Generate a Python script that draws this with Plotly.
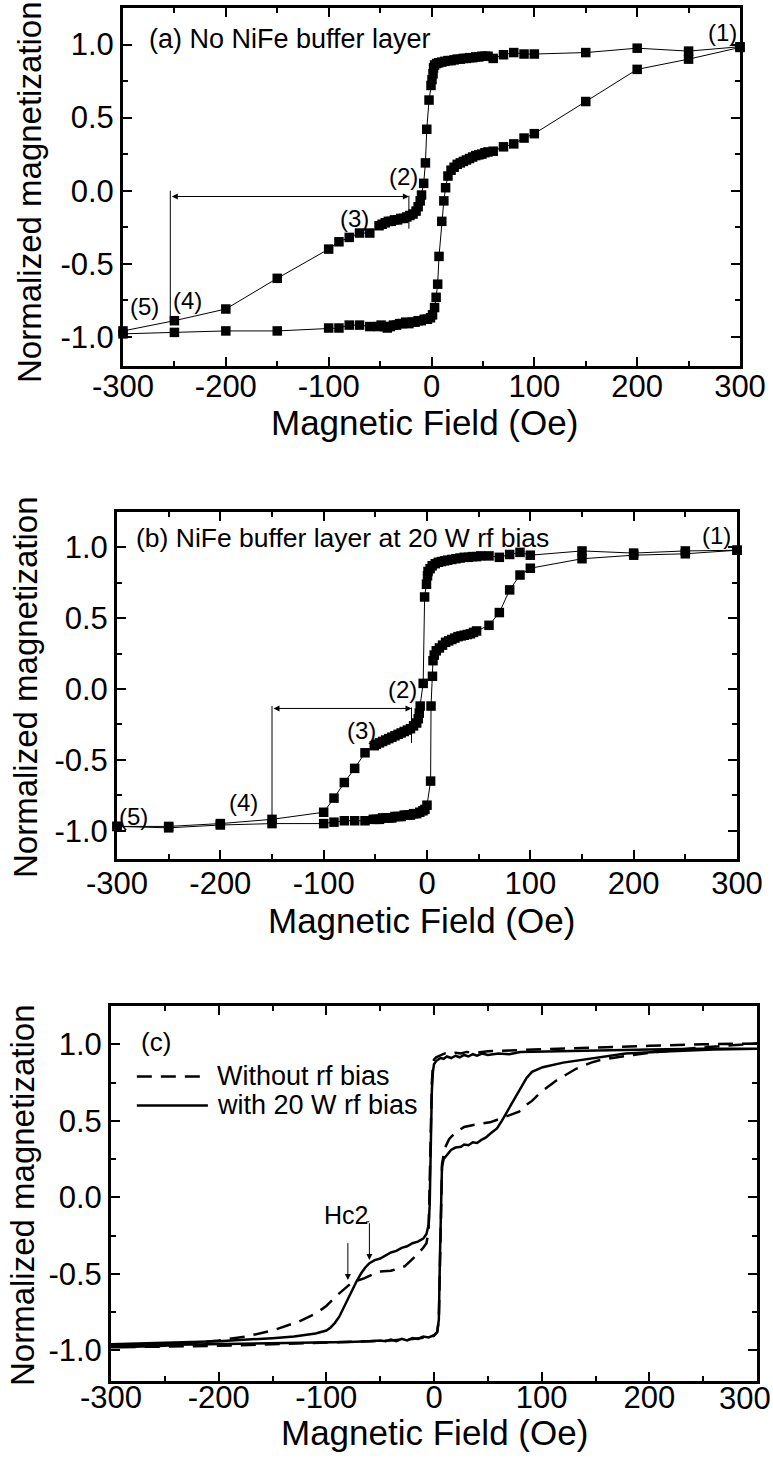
import plotly.graph_objects as go

# ---------------- Panel (a): no NiFe buffer layer ----------------
a_desc_H = [300, 250, 200, 150, 100, 90, 80, 70, 60, 55, 52, 49, 46, 43, 40, 37, 34, 31, 28, 25,
            22, 19, 16, 13, 10, 7, 5, 3, 2, 1.5, 0.5, -0.5, -2.4, -4.6, -5.9, -7.6, -9.7, -11, -13,
            -15, -18, -21, -24, -27, -30, -33, -36, -39, -42, -45, -48, -51, -60, -70, -80, -90,
            -100, -150, -200, -250, -300]
a_desc_M = [0.985, 0.955, 0.975, 0.945, 0.935, 0.935, 0.945, 0.93, 0.905, 0.92, 0.92, 0.92, 0.915,
            0.915, 0.91, 0.91, 0.905, 0.905, 0.90, 0.90, 0.895, 0.89, 0.89, 0.885, 0.88, 0.875,
            0.87, 0.86, 0.84, 0.80, 0.76, 0.72, 0.62, 0.42, 0.19, 0.05, -0.03, -0.07, -0.11, -0.14,
            -0.16, -0.17, -0.18, -0.19, -0.19, -0.20, -0.20, -0.21, -0.21, -0.22, -0.23, -0.24,
            -0.29, -0.29, -0.32, -0.35, -0.40, -0.60, -0.81, -0.89, -0.96]
a_asc_H = [-300, -250, -200, -150, -100, -90, -80, -70, -60, -52, -49, -46, -43, -40, -37, -34, -31,
           -28, -25, -22, -19, -16, -13, -10, -7, -4, -1, 1, 3, 4.5, 6, 7.3, 10, 12, 13.7, 16, 19,
           22, 25, 28, 31, 34, 37, 40, 43, 46, 49, 52, 55, 60, 70, 80, 90, 100, 150, 200, 250, 300]
a_asc_M = [-0.98, -0.97, -0.96, -0.96, -0.94, -0.94, -0.92, -0.92, -0.93, -0.93, -0.92, -0.93,
           -0.94, -0.93, -0.92, -0.92, -0.91, -0.91, -0.90, -0.91, -0.90, -0.90, -0.89, -0.89,
           -0.88, -0.88, -0.87, -0.85, -0.80, -0.73, -0.64, -0.45, -0.21, -0.07, 0.02, 0.10, 0.14,
           0.16, 0.18, 0.19, 0.20, 0.21, 0.22, 0.23, 0.24, 0.245, 0.25, 0.26, 0.265, 0.27, 0.30,
           0.32, 0.36, 0.39, 0.61, 0.83, 0.90, 0.98]

# ---------------- Panel (b): NiFe buffer at 20 W rf bias ----------------
b_desc_H = [300, 250, 200, 150, 100, 90, 80, 70, 60, 52, 48, 44, 40, 36, 32, 28, 24, 20, 17, 14, 11,
            8, 5, 3, 1, 0.5, -0.5, -2.3, -3.7, -6.6, -7.5, -8.5, -10, -13, -16, -19, -22, -25, -28,
            -31, -34, -37, -40, -43, -46, -49, -51, -60, -70, -80, -90, -100, -150, -200, -250, -300]
b_desc_M = [0.98, 0.975, 0.96, 0.975, 0.945, 0.965, 0.95, 0.93, 0.94, 0.94, 0.935, 0.935, 0.93,
            0.93, 0.925, 0.92, 0.915, 0.91, 0.905, 0.90, 0.895, 0.885, 0.87, 0.85, 0.83, 0.80,
            0.74, 0.65, 0.04, -0.12, -0.17, -0.21, -0.24, -0.26, -0.28, -0.29, -0.30, -0.31,
            -0.32, -0.33, -0.34, -0.35, -0.36, -0.37, -0.38, -0.39, -0.40, -0.45, -0.56, -0.66,
            -0.77, -0.87, -0.92, -0.95, -0.97, -0.97]
b_asc_H = [-300, -250, -200, -150, -100, -90, -80, -70, -60, -52, -49, -46, -43, -40, -37, -34, -31,
           -28, -25, -22, -19, -16, -13, -10, -7, -4, -2, 0, 3.5, 3.9, 5.3, 5.8, 7, 9, 12, 15, 18,
           21, 24, 27, 30, 33, 36, 39, 42, 45, 48, 60, 70, 80, 90, 100, 150, 200, 250, 300]
b_asc_M = [-0.97, -0.98, -0.96, -0.95, -0.95, -0.94, -0.93, -0.93, -0.93, -0.92, -0.92, -0.92,
           -0.91, -0.91, -0.91, -0.91, -0.90, -0.90, -0.90, -0.89, -0.89, -0.89, -0.88, -0.88,
           -0.87, -0.86, -0.85, -0.82, -0.65, -0.12, 0.09, 0.20, 0.24, 0.27, 0.29, 0.31, 0.33,
           0.34, 0.35, 0.36, 0.37, 0.375, 0.38, 0.385, 0.39, 0.40, 0.41, 0.45, 0.54, 0.70, 0.805,
           0.853, 0.92, 0.945, 0.955, 0.98]

# ---------------- Panel (c): comparison ----------------
c_wo_desc_H = [300, 250, 200, 150, 100, 70, 50, 40, 30, 25, 20, 15, 10, 5, 2, 0, -1, -2, -3, -4, -5,
               -7, -10, -15, -27, -40, -51, -65, -76, -90, -100, -110, -125, -150, -175, -200,
               -250, -300]
c_wo_desc_M = [1.005, 1.0, 0.99, 0.98, 0.97, 0.96, 0.955, 0.945, 0.95, 0.94, 0.945, 0.935, 0.94,
               0.925, 0.915, 0.90, 0.86, 0.75, 0.40, 0.0, -0.22, -0.30, -0.33, -0.37, -0.45,
               -0.48, -0.485, -0.53, -0.555, -0.64, -0.71, -0.76, -0.81, -0.87, -0.91, -0.935,
               -0.97, -0.98]
c_wo_asc_H = [-300, -250, -200, -150, -100, -80, -60, -40, -20, -5, 0, 3, 4.5, 5.5, 6.5, 7.5, 10, 14,
              19.5, 28, 42, 52, 60, 68, 79, 85, 91, 98, 105, 113, 120, 132, 146, 156, 175, 200,
              250, 300]
c_wo_asc_M = [-0.98, -0.975, -0.97, -0.96, -0.95, -0.945, -0.94, -0.935, -0.925, -0.915, -0.905,
              -0.88, -0.80, -0.40, 0.0, 0.22, 0.32, 0.38, 0.42, 0.46, 0.48, 0.49, 0.51, 0.53, 0.56,
              0.60, 0.63, 0.68, 0.72, 0.76, 0.79, 0.84, 0.88, 0.90, 0.92, 0.945, 0.98, 1.005]

c_w_desc_H = [300, 250, 200, 150, 100, 80, 70, 60, 50, 45, 40, 36, 32, 28, 24, 20, 16, 12, 9, 6, 4,
              2, 0, -1, -2, -3, -4, -5, -7, -10, -15, -20, -25, -30, -35, -40, -45, -50, -55, -60,
              -64, -68, -72, -76, -80, -84, -88, -92, -96, -100, -110, -130, -150, -200, -250, -300]
c_w_desc_M = [0.97, 0.97, 0.965, 0.96, 0.955, 0.95, 0.935, 0.94, 0.93, 0.94, 0.925, 0.935, 0.92,
              0.93, 0.915, 0.925, 0.91, 0.92, 0.905, 0.91, 0.90, 0.89, 0.87, 0.82, 0.70, 0.30,
              -0.05, -0.18, -0.24, -0.27, -0.29, -0.30, -0.32, -0.33, -0.35, -0.36, -0.38, -0.40,
              -0.41, -0.43, -0.46, -0.50, -0.55, -0.61, -0.67, -0.73, -0.78, -0.82, -0.85, -0.87,
              -0.89, -0.91, -0.92, -0.94, -0.95, -0.96]
c_w_asc_H = [-300, -250, -200, -150, -100, -80, -60, -50, -45, -40, -35, -30, -25, -20, -15, -10, -5,
             0, 3, 4.5, 5.5, 6.5, 7.4, 9, 12, 15.8, 20, 25, 28, 32, 36, 40, 44, 48, 53, 58.5, 63,
             68.7, 75, 80.8, 86, 91, 101, 120, 138, 178, 220, 260, 300]
c_w_asc_M = [-0.97, -0.965, -0.96, -0.955, -0.95, -0.945, -0.94, -0.935, -0.94, -0.93, -0.94,
             -0.925, -0.935, -0.92, -0.925, -0.91, -0.915, -0.90, -0.88, -0.80, -0.40, 0.0, 0.20,
             0.25, 0.28, 0.31, 0.325, 0.33, 0.345, 0.34, 0.36, 0.355, 0.375, 0.39, 0.42, 0.45,
             0.50, 0.57, 0.65, 0.72, 0.78, 0.82, 0.85, 0.88, 0.90, 0.94, 0.955, 0.965, 0.97]

x_tick_vals = [-300, -200, -100, 0, 100, 200, 300]
x_tick_text = ["-300", "-200", "-100", "0", "100", "200", "300"]
x_minor_vals = [-250, -150, -50, 50, 150, 250]
y_tick_vals = [-1.0, -0.5, 0.0, 0.5, 1.0]
y_tick_text = ["-1.0", "-0.5", "0.0", "0.5", "1.0"]
y_minor_vals = [-0.75, -0.25, 0.25, 0.75]

W, H = 773, 1464
FONT = "Arial"

fig = go.Figure()

marker_sq = dict(symbol="square", size=9.5, color="black")
line_thin = dict(color="black", width=1)

fig.add_trace(go.Scatter(x=a_desc_H + a_asc_H, y=a_desc_M + a_asc_M, mode="lines+markers",
                         marker=marker_sq, line=line_thin, cliponaxis=False,
                         xaxis="x", yaxis="y", showlegend=False))
fig.add_trace(go.Scatter(x=b_desc_H + b_asc_H, y=b_desc_M + b_asc_M, mode="lines+markers",
                         marker=marker_sq, line=line_thin, cliponaxis=False,
                         xaxis="x2", yaxis="y2", showlegend=False))
fig.add_trace(go.Scatter(x=c_wo_desc_H + c_wo_asc_H, y=c_wo_desc_M + c_wo_asc_M, mode="lines",
                         line=dict(color="black", width=2.5, dash="15px,9px"),
                         xaxis="x3", yaxis="y3", name="Without rf bias", showlegend=False))
fig.add_trace(go.Scatter(x=c_w_desc_H + c_w_asc_H, y=c_w_desc_M + c_w_asc_M, mode="lines",
                         line=dict(color="black", width=2.5),
                         xaxis="x3", yaxis="y3", name="with 20 W rf bias", showlegend=False))


def px_x(px):
    return px / W


def px_y(py):
    return 1 - py / H


def xaxis_cfg(l, r, anchor, standoff, ticktext):
    return dict(domain=[px_x(l), px_x(r)], range=[-300, 300], anchor=anchor, automargin=False,
                showline=True, linewidth=3, linecolor="black", mirror="allticks", ticks="inside",
                ticklen=9, tickwidth=2, tickcolor="black", showgrid=False, zeroline=False,
                tickmode="array", tickvals=x_tick_vals, ticktext=ticktext,
                ticklabelstandoff=standoff, ticklabeloverflow="allow",
                tickfont=dict(family=FONT, size=31, color="black"),
                minor=dict(tickmode="array", tickvals=x_minor_vals, ticks="inside", ticklen=5,
                           tickwidth=2, tickcolor="black", showgrid=False))


def yaxis_cfg(t, b, anchor):
    return dict(domain=[px_y(b), px_y(t)], range=[-1.2, 1.25], anchor=anchor, automargin=False,
                showline=True, linewidth=3, linecolor="black", mirror="allticks", ticks="inside",
                ticklen=9, tickwidth=2, tickcolor="black", showgrid=False, zeroline=False,
                tickmode="array", tickvals=y_tick_vals, ticktext=y_tick_text, ticklabelstandoff=0,
                ticklabeloverflow="allow",
                tickfont=dict(family=FONT, size=31, color="black"),
                minor=dict(tickmode="array", tickvals=y_minor_vals, ticks="inside", ticklen=5,
                           tickwidth=2, tickcolor="black", showgrid=False))


# the last label of panel (c) sits at the page edge; it is drawn as a right-aligned text below
x_tick_text_c = x_tick_text[:-1] + [""]

fig.update_layout(
    template="none",
    width=W, height=H, margin=dict(l=0, r=0, t=0, b=0, autoexpand=False),
    paper_bgcolor="white", plot_bgcolor="white", showlegend=False,
    xaxis=xaxis_cfg(123, 740, "y", -9, x_tick_text),
    yaxis=yaxis_cfg(8, 366, "x"),
    xaxis2=xaxis_cfg(117, 737, "y2", -5, x_tick_text),
    yaxis2=yaxis_cfg(512, 859, "x2"),
    xaxis3=xaxis_cfg(111, 757, "y3", -13, x_tick_text_c),
    yaxis3=yaxis_cfg(1006, 1381, "x3"),
)

ann = []
shapes = []

ann.append(dict(text=x_tick_text[-1], x=px_x(773), y=px_y(1398), xref="paper", yref="paper",
                showarrow=False, xanchor="right", yanchor="middle",
                font=dict(family=FONT, size=31, color="black")))

# axis titles
for cx, cy in [(424, 423), (422, 921), (434, 1432)]:
    ann.append(dict(text="Magnetic Field (Oe)", x=px_x(cx), y=px_y(cy), xref="paper", yref="paper",
                    showarrow=False, xanchor="center", yanchor="middle",
                    font=dict(family=FONT, size=35, color="black")))
for cx, cy in [(29, 192), (26, 687), (22, 1195)]:
    ann.append(dict(text="Normalized magnetization", x=px_x(cx), y=px_y(cy), xref="paper",
                    yref="paper", showarrow=False, textangle=-90, xanchor="center",
                    yanchor="middle", font=dict(family=FONT, size=33, color="black")))

lab = dict(family=FONT, size=24, color="black")

# panel (a) texts
ann.append(dict(text="(a) No NiFe buffer layer", x=-277, y=1.04, xref="x", yref="y",
                showarrow=False, xanchor="left", yanchor="middle",
                font=dict(family=FONT, size=27, color="black")))
for t, x, y in [("(1)", 283, 1.08), ("(2)", -27, 0.10), ("(3)", -75, -0.19), ("(4)", -237, -0.75),
                ("(5)", -279, -0.79)]:
    ann.append(dict(text=t, x=x, y=y, xref="x", yref="y", showarrow=False, font=lab))
ann.append(dict(x=-22, y=-0.04, ax=-254, ay=-0.04, xref="x", yref="y", axref="x", ayref="y",
                text="", showarrow=True, arrowhead=2, startarrowhead=2, arrowside="end+start",
                arrowsize=1.2, startarrowsize=1.2, arrowwidth=1, arrowcolor="black"))
shapes.append(dict(type="line", x0=-254, x1=-254, y0=0.0, y1=-0.89, xref="x", yref="y",
                   line=dict(color="black", width=1)))
shapes.append(dict(type="line", x0=-22, x1=-22, y0=-0.035, y1=-0.26, xref="x", yref="y",
                   line=dict(color="black", width=1)))

# panel (b) texts
ann.append(dict(text="(b) NiFe buffer layer at 20 W rf bias", x=-284, y=1.066, xref="x2",
                yref="y2", showarrow=False, xanchor="left", yanchor="middle",
                font=dict(family=FONT, size=26.5, color="black")))
for t, x, y in [("(1)", 280, 1.087), ("(2)", -24, -0.006), ("(3)", -63, -0.29), ("(4)", -178, -0.80),
                ("(5)", -284, -0.90)]:
    ann.append(dict(text=t, x=x, y=y, xref="x2", yref="y2", showarrow=False, font=lab))
ann.append(dict(x=-15, y=-0.137, ax=-150, ay=-0.137, xref="x2", yref="y2", axref="x2", ayref="y2",
                text="", showarrow=True, arrowhead=2, startarrowhead=2, arrowside="end+start",
                arrowsize=1.2, startarrowsize=1.2, arrowwidth=1, arrowcolor="black"))
shapes.append(dict(type="line", x0=-150, x1=-150, y0=-0.12, y1=-0.92, xref="x2", yref="y2",
                   line=dict(color="black", width=1)))
shapes.append(dict(type="line", x0=-15, x1=-15, y0=-0.13, y1=-0.38, xref="x2", yref="y2",
                   line=dict(color="black", width=1)))

# panel (c) texts and manual legend
ann.append(dict(text="(c)", x=-274, y=1.017, xref="x3", yref="y3", showarrow=False,
                xanchor="left", yanchor="middle", font=dict(family=FONT, size=26, color="black")))
shapes.append(dict(type="line", x0=-276, x1=-210, y0=0.79, y1=0.79, xref="x3", yref="y3",
                   line=dict(color="black", width=2.5, dash="15px,9px")))
shapes.append(dict(type="line", x0=-276, x1=-210, y0=0.60, y1=0.60, xref="x3", yref="y3",
                   line=dict(color="black", width=2.5)))
ann.append(dict(text="Without rf bias", x=-203, y=0.79, xref="x3", yref="y3", showarrow=False,
                xanchor="left", yanchor="middle", font=dict(family=FONT, size=27, color="black")))
ann.append(dict(text="with 20 W rf bias", x=-203, y=0.60, xref="x3", yref="y3", showarrow=False,
                xanchor="left", yanchor="middle", font=dict(family=FONT, size=27, color="black")))
ann.append(dict(text="Hc2", x=-82, y=-0.116, xref="x3", yref="y3", showarrow=False,
                font=dict(family=FONT, size=25, color="black")))
ann.append(dict(x=-60, y=-0.41, ax=-60, ay=-0.16, xref="x3", yref="y3", axref="x3",
                ayref="y3", text="", showarrow=True, arrowhead=2, arrowsize=1.2, arrowwidth=1,
                arrowcolor="black"))
ann.append(dict(x=-80, y=-0.54, ax=-80, ay=-0.29, xref="x3", yref="y3", axref="x3",
                ayref="y3", text="", showarrow=True, arrowhead=2, arrowsize=1.2, arrowwidth=1,
                arrowcolor="black"))
shapes.append(dict(type="line", x0=-63, x1=-60, y0=-0.16, y1=-0.16, xref="x3", yref="y3",
                   line=dict(color="black", width=1)))

fig.update_layout(annotations=ann, shapes=shapes)
fig.write_html("out.html")
